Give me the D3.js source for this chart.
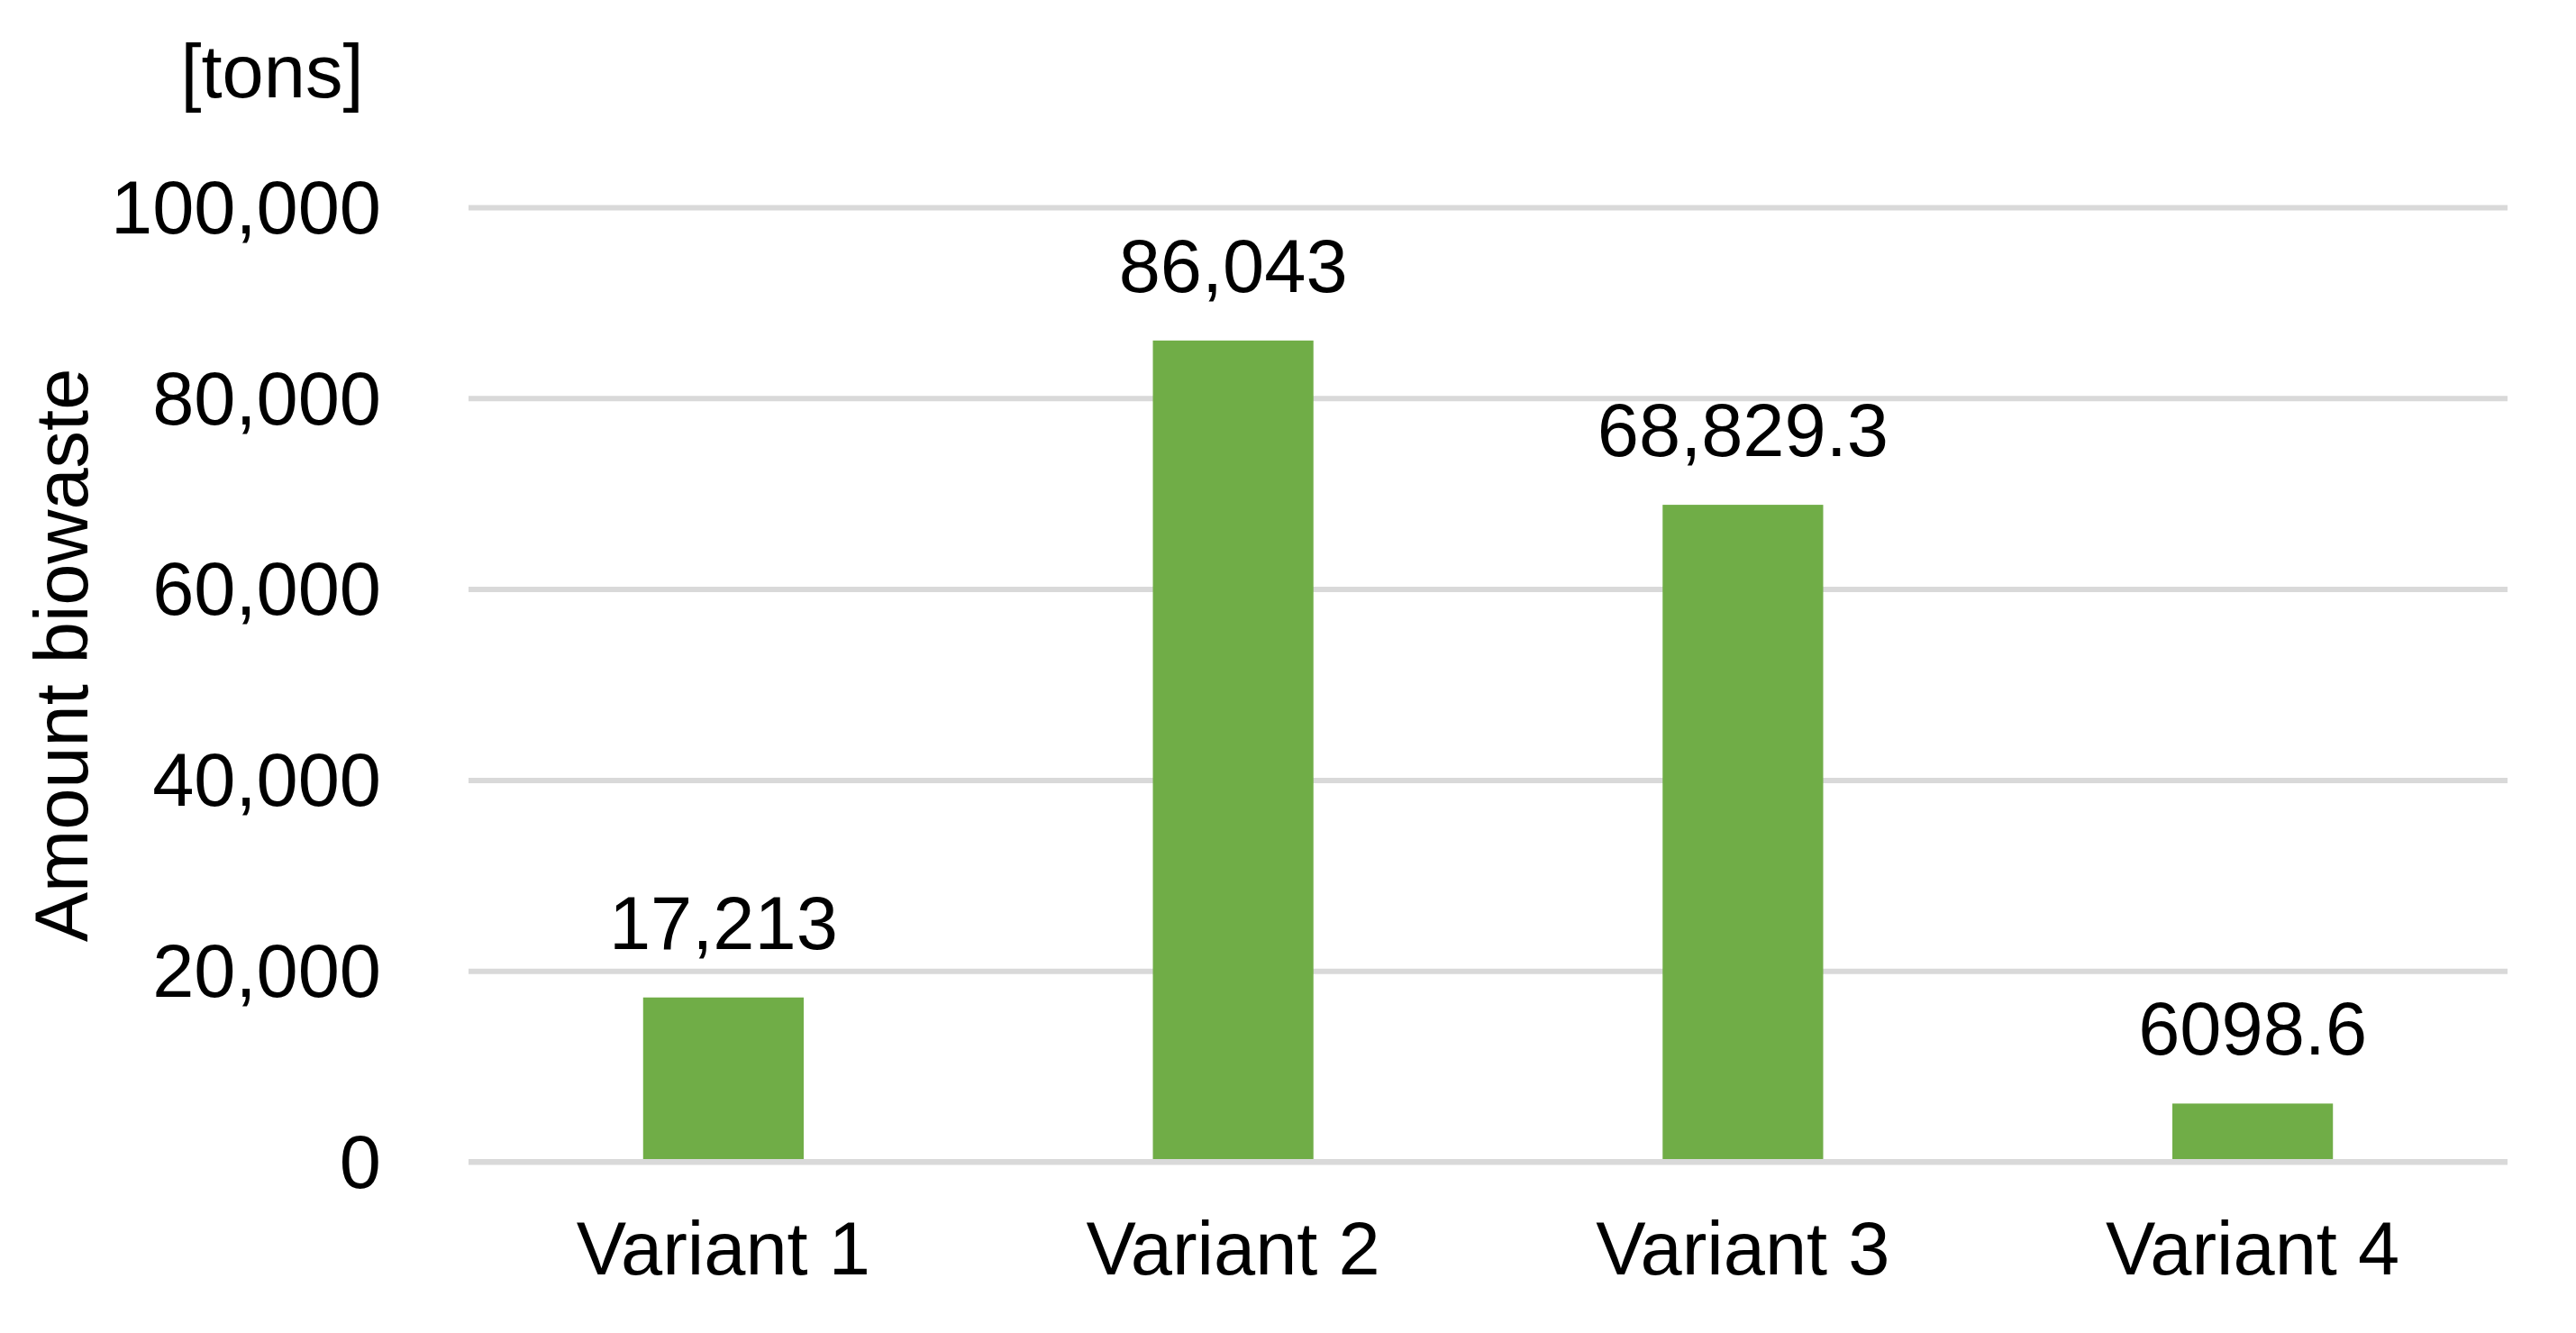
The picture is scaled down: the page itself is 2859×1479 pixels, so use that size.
<html>
<head>
<script src="https://d3js.org/d3.v7.min.js"></script>
<style>
  body{margin:0;background:#fff;}
  text{font-family:"Liberation Sans",Arial,sans-serif;fill:#000;}
  .grid line{stroke:#d9d9d9;stroke-width:6;}
  .bar{fill:#70ad47;}
</style>
</head>
<body>
<script>
// data
const categories = ["Variant 1","Variant 2","Variant 3","Variant 4"];
const amounts = [17213, 86043, 68829.3, 6098.6];
const amountLabels = ["17,213","86,043","68,829.3","6098.6"];
const yTicks = [0,20000,40000,60000,80000,100000];

const w = 2859, h = 1479;
const plotL = 520, plotR = 2783, plotT = 230, plotB = 1289;
const fs = 83;

const svg = d3.select("body").append("svg")
  .attr("width",w).attr("height",h);

svg.append("rect").attr("width",w).attr("height",h).attr("fill","#fff");

const x = d3.scaleBand()
  .domain(categories)
  .range([plotL,plotR])
  .paddingInner(0.685)
  .paddingOuter(0.3425);

const y = d3.scaleLinear()
  .domain([0,100000])
  .range([plotB,plotT]);

// gridlines + tick labels
const yAxis = d3.axisLeft(y)
  .tickValues(yTicks)
  .tickFormat(d3.format(","))
  .tickSizeInner(-(plotR-plotL))
  .tickSizeOuter(0)
  .tickPadding(97);

const g = svg.append("g")
  .attr("class","grid")
  .attr("transform","translate("+plotL+",0)")
  .call(yAxis);
g.select(".domain").remove();
g.selectAll("text")
  .attr("font-size",fs)
  .attr("font-family","Liberation Sans, Arial, sans-serif")
  .attr("fill","#000")
  .attr("dy","0.34em");

// bars
svg.append("g").selectAll("rect")
  .data(amounts)
  .enter().append("rect")
  .attr("class","bar")
  .attr("x",(d,i)=>x(categories[i]))
  .attr("width",x.bandwidth())
  .attr("y",d=>y(d))
  .attr("height",d=>y(0)-y(d));

// zero line on top of bars
svg.append("line")
  .attr("x1",plotL).attr("x2",plotR)
  .attr("y1",y(0)).attr("y2",y(0))
  .attr("stroke","#d9d9d9").attr("stroke-width",6);

// data labels
svg.append("g").selectAll("text")
  .data(amounts)
  .enter().append("text")
  .attr("x",(d,i)=>x(categories[i])+x.bandwidth()/2)
  .attr("y",d=>y(d)-54)
  .attr("text-anchor","middle")
  .attr("font-size",fs)
  .text((d,i)=>amountLabels[i]);

// category labels
const xAxis = d3.axisBottom(x).tickSize(0).tickPadding(0);
const gx = svg.append("g")
  .attr("transform","translate(0,"+y(0)+")")
  .call(xAxis);
gx.select(".domain").remove();
gx.selectAll("text")
  .attr("font-size",fs)
  .attr("font-family","Liberation Sans, Arial, sans-serif")
  .attr("fill","#000")
  .attr("dy",null)
  .attr("y",125);

// axis title and unit
svg.append("text")
  .attr("transform","translate(97,727) rotate(-90)")
  .attr("text-anchor","middle")
  .attr("font-size",fs)
  .text("Amount biowaste");

svg.append("text")
  .attr("x",302)
  .attr("y",108)
  .attr("text-anchor","middle")
  .attr("font-size",fs)
  .text("[tons]");
</script>
</body>
</html>
